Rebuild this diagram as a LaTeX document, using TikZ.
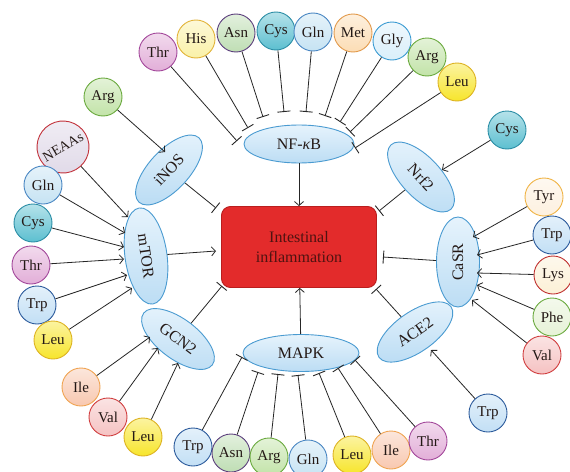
\documentclass[tikz,border=0pt]{standalone}
\usepackage{fontspec}
\setmainfont{Liberation Serif}
\usetikzlibrary{shapes.geometric,arrows.meta}
\definecolor{enzF}{HTML}{BCDDF4}\definecolor{enzT}{HTML}{E6F3FC}\definecolor{enzD}{HTML}{4A9BD1}
\definecolor{thrF}{HTML}{E2AED8}\definecolor{thrD}{HTML}{A3489B}
\definecolor{hisF}{HTML}{FAF1A8}\definecolor{hisD}{HTML}{E2B43A}
\definecolor{asnF}{HTML}{BFDEB4}\definecolor{asnD}{HTML}{5C3F7D}
\definecolor{cysF}{HTML}{5CBFD0}\definecolor{cysD}{HTML}{2C8EA6}
\definecolor{glnF}{HTML}{C6E3F3}\definecolor{glnD}{HTML}{4A87C3}
\definecolor{metF}{HTML}{FCDDB5}\definecolor{metD}{HTML}{E29A4C}
\definecolor{glyF}{HTML}{DAEFFA}\definecolor{glyD}{HTML}{3B9BD2}
\definecolor{argF}{HTML}{C2E3A8}\definecolor{argD}{HTML}{6BAA3F}
\definecolor{leuF}{HTML}{F7E52C}\definecolor{leuD}{HTML}{DDB323}
\definecolor{neaF}{HTML}{E0D9E8}\definecolor{neaD}{HTML}{C2323B}
\definecolor{trpF}{HTML}{C2DFF5}\definecolor{trpD}{HTML}{2C5B9C}
\definecolor{ileF}{HTML}{F8C8B0}\definecolor{ileD}{HTML}{F0A452}
\definecolor{valF}{HTML}{F5C2C2}\definecolor{valD}{HTML}{D13F40}
\definecolor{tyrF}{HTML}{FDF0DF}\definecolor{tyrD}{HTML}{F0B445}
\definecolor{lysF}{HTML}{FCF0D6}\definecolor{lysD}{HTML}{C0302F}
\definecolor{pheF}{HTML}{E6F2D6}\definecolor{pheD}{HTML}{6BAA3F}
\definecolor{redF}{HTML}{E32B2B}\definecolor{redD}{HTML}{BA1E1E}
\definecolor{txt}{HTML}{231815}
\begin{document}
\begin{tikzpicture}[x=1pt,y=-1pt,
  aa/.style={circle,draw=#1D,top color=#1F!45!white,bottom color=#1F,line width=0.9pt,
    minimum size=38pt,inner sep=0pt,text=txt,font=\fontsize{15}{16}\selectfont},
  enz/.style={ellipse,draw=enzD,top color=enzT,bottom color=enzF,line width=0.9pt,
    inner sep=0pt,text=txt,font=\fontsize{16}{17}\selectfont},
  inh/.style={-{Bar[width=13pt,line width=0.9pt]},line width=0.8pt,draw=black!85},
  act/.style={-{Straight Barb[length=4pt,width=9pt,line width=0.8pt]},line width=0.8pt,draw=black!85}]
\useasboundingbox (0,0) rectangle (570,471);
\fill[white] (0,0) rectangle (570,471);

% central node
\node[draw=redD,fill=redF,line width=0.9pt,rounded corners=9pt,minimum width=155pt,minimum height=81pt,
  align=center,text=txt!80!red,font=\fontsize{16}{20}\selectfont] (rect) at (299,247) {Intestinal\\inflammation};

% enzymes
\node[enz,minimum width=110pt,minimum height=38pt] (nfkb) at (299,144) {NF-\textit{κ}B};
\node[enz,minimum width=116pt,minimum height=37pt] (mapk) at (301,353) {MAPK};
\node[enz,minimum width=88pt,minimum height=40pt,rotate=47] (inos) at (169,170) {iNOS};
\node[enz,minimum width=97pt,minimum height=42pt,rotate=-82] (mtor) at (146,256) {mTOR};
\node[enz,minimum width=86pt,minimum height=40pt,rotate=-37] (gcn) at (178,339) {GCN2};
\node[enz,minimum width=88pt,minimum height=40pt,rotate=-47] (nrf) at (421,177) {Nrf2};
\node[enz,minimum width=90pt,minimum height=43pt,rotate=90] (casr) at (458,262) {CaSR};
\node[enz,minimum width=88pt,minimum height=40pt,rotate=35] (ace) at (415,332) {ACE2};

% top amino acids -> NF-kB
\node[aa=thr] (t1) at (158,52) {Thr};
\node[aa=his] (t2) at (196,39) {His};
\node[aa=asn] (t3) at (236,33) {Asn};
\node[aa=cys] (t4) at (276,31) {Cys};
\node[aa=gln] (t5) at (313,32) {Gln};
\node[aa=met] (t6) at (353,33) {Met};
\node[aa=gly] (t7) at (392,41) {Gly};
\node[aa=arg] (t8) at (427,57) {Arg};
\node[aa=leu] (t9) at (457,82) {Leu};
\coordinate (e1) at (237,141);\coordinate (e2) at (248,128);\coordinate (e3) at (263,117);
\coordinate (e4) at (284,112);\coordinate (e5) at (306,112);\coordinate (e6) at (325,116);
\coordinate (e7) at (340,122);\coordinate (e8) at (350,132);\coordinate (e9) at (355,148);
\foreach \i in {1,...,9} {\draw[inh] (t\i) -- (e\i);}

% bottom amino acids -> MAPK
\node[aa=trp] (b1) at (193,447) {Trp};
\node[aa=asn] (b2) at (231,453) {Asn};
\node[aa=arg] (b3) at (269,457) {Arg};
\node[aa=gln] (b4) at (308,459) {Gln};
\node[aa=leu] (b5) at (352,455) {Leu};
\node[aa=ile] (b6) at (391,450) {Ile};
\node[aa=thr] (b7) at (428,441) {Thr};
\coordinate (f1) at (242,357);\coordinate (f2) at (258,372);\coordinate (f3) at (278,374);
\coordinate (f4) at (298,375);\coordinate (f5) at (319,373);\coordinate (f6) at (338,368);
\coordinate (f7) at (355,360);
\foreach \i in {1,...,7} {\draw[inh] (b\i) -- (f\i);}

% enzymes -> intestinal inflammation
\draw[act] (nfkb) -- (rect);
\draw[act] (mapk) -- (rect);
\coordinate (mtorend) at (216,251);
\draw[act] (mtor) -- (mtorend);
\coordinate (inosend) at (216,208);
\draw[inh] (inos) -- (inosend);
\coordinate (gcnend) at (222,286);
\draw[inh] (gcn) -- (gcnend);
\coordinate (nrfend) at (379,211);
\draw[inh] (nrf) -- (nrfend);
\coordinate (casrend) at (383,257);
\draw[inh] (casr) -- (casrend);
\coordinate (aceend) at (376,289);
\draw[inh] (ace) -- (aceend);

% iNOS input
\node[aa=arg] (l0) at (103,97) {Arg};
\coordinate (inosin) at (165,152);
\draw[act] (l0) -- (inosin);

% mTOR inputs
\node[aa=nea,minimum size=52pt,rotate=30,font=\fontsize{14}{15}\selectfont] (l1) at (63,147) {NEAAs};
\node[aa=gln] (l2) at (43,185) {Gln};
\node[aa=cys] (l3) at (33,223) {Cys};
\node[aa=thr] (l4) at (31,265) {Thr};
\node[aa=trp] (l5) at (37,305) {Trp};
\node[aa=leu] (l6) at (53,340) {Leu};
\coordinate (m1) at (128,217);\coordinate (m2) at (125,233);\coordinate (m3) at (124,247);
\coordinate (m4) at (124,259);\coordinate (m5) at (127,275);\coordinate (m6) at (132,288);
\foreach \i in {1,...,6} {\draw[act] (l\i) -- (m\i);}

% GCN2 inputs
\node[aa=ile] (g1) at (81,387) {Ile};
\node[aa=val] (g2) at (108,417) {Val};
\node[aa=leu] (g3) at (143,437) {Leu};
\coordinate (n1) at (150,337);\coordinate (n2) at (158,348);\coordinate (n3) at (178,363);
\foreach \i in {1,2,3} {\draw[act] (g\i) -- (n\i);}

% Nrf2 input
\node[aa=cys] (r0) at (507,130) {Cys};
\coordinate (nrfin) at (442,170);
\draw[act] (r0) -- (nrfin);

% CaSR inputs
\node[aa=tyr] (r1) at (544,197) {Tyr};
\node[aa=trp] (r2) at (552,235) {Trp};
\node[aa=lys] (r3) at (553,275) {Lys};
\node[aa=phe] (r4) at (552,317) {Phe};
\node[aa=val] (r5) at (542,355) {Val};
\coordinate (c1) at (473,237);\coordinate (c2) at (477,255);\coordinate (c3) at (477,273);
\coordinate (c4) at (477,285);\coordinate (c5) at (472,300);
\foreach \i in {1,...,5} {\draw[act] (r\i) -- (c\i);}

% ACE2 input
\node[aa=trp] (a0) at (488,413) {Trp};
\coordinate (acein) at (431,350);
\draw[act] (a0) -- (acein);
\end{tikzpicture}
\end{document}
